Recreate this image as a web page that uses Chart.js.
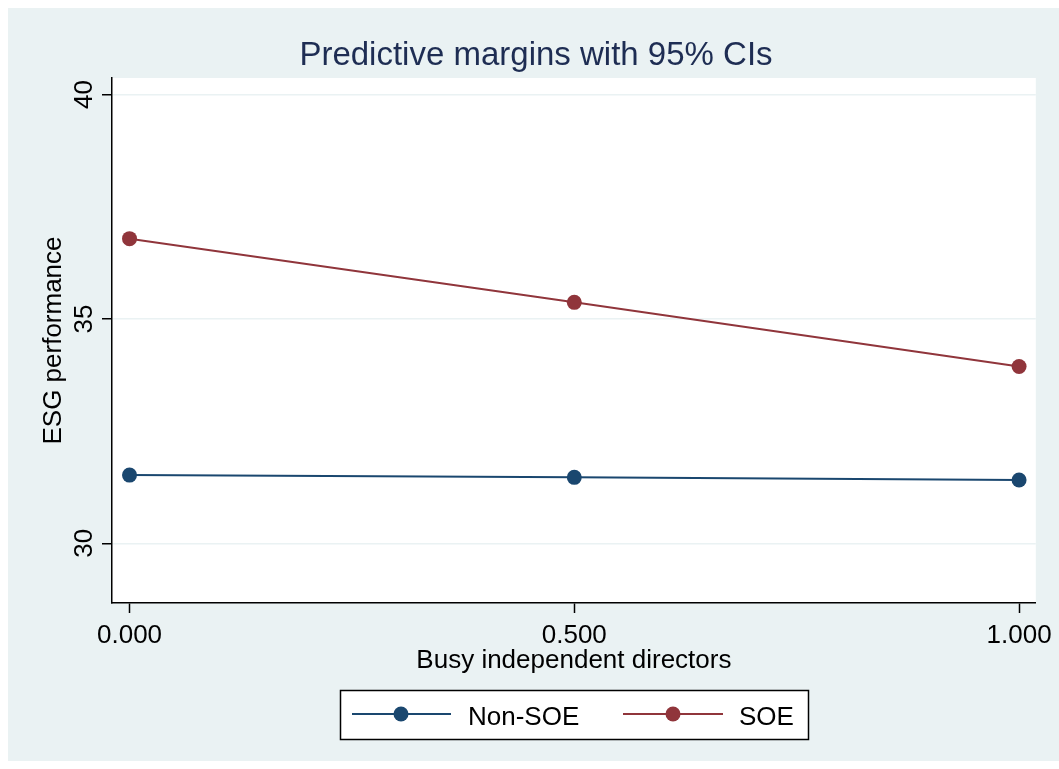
<!DOCTYPE html>
<html lang="en">
<head>
    <meta charset="UTF-8">
    <title>Predictive margins with 95% CIs</title>
    <style>
        * { margin: 0; padding: 0; box-sizing: border-box; }
        body { background: #fff; width: 1059px; height: 769px; overflow: hidden; }
        canvas { display: block; }
    </style>
</head>
<body>
    <canvas id="chart" width="1059" height="769"></canvas>

    <script src="https://cdn.jsdelivr.net/npm/chart.js@4.4.0/dist/chart.umd.min.js"></script>
    <script>
        // Data
        const chartTitle = 'Predictive margins with 95% CIs';
        const xTitle = 'Busy independent directors';
        const yTitle = 'ESG performance';
        const xValues = [0, 0.5, 1];
        const nonSoeValues = [31.52, 31.47, 31.41];
        const soeValues = [36.79, 35.37, 33.94];
        const seriesNames = ['Non-SOE', 'SOE'];
        const seriesColors = ['#1a476f', '#90353b'];
        const xTicks = [0, 0.5, 1];
        const yTicks = [30, 35, 40];

        const FONT = '"Liberation Sans", Arial, sans-serif';
        const BG = '#eaf2f3';

        const toPoints = vals => vals.map((v, i) => ({ x: xValues[i], y: v }));

        // Panel background, title, rotated y labels and the boxed legend
        const stataLook = {
            id: 'stataLook',
            beforeDraw(chart) {
                const { ctx, chartArea: a } = chart;
                ctx.save();
                ctx.fillStyle = BG;
                ctx.fillRect(8, 8, chart.width - 8, chart.height - 16);
                ctx.fillStyle = '#fff';
                ctx.fillRect(a.left, a.top, a.right - a.left, a.bottom - a.top);
                ctx.restore();
            },
            afterDraw(chart) {
                const { ctx } = chart;
                const yScale = chart.scales.y;
                ctx.save();

                // title
                ctx.fillStyle = '#1e2d53';
                ctx.font = '33px ' + FONT;
                ctx.textAlign = 'center';
                ctx.textBaseline = 'alphabetic';
                ctx.fillText(chartTitle, 536, 65);

                // y tick labels, rotated like Stata
                ctx.fillStyle = '#000';
                ctx.font = '26px ' + FONT;
                yTicks.forEach(t => {
                    const py = yScale.getPixelForValue(t);
                    ctx.save();
                    ctx.translate(92, py);
                    ctx.rotate(-Math.PI / 2);
                    ctx.fillText(String(t), 0, 0);
                    ctx.restore();
                });

                // legend
                const lx = 340, ly = 690, lw = 468, lh = 49;
                ctx.fillStyle = '#fff';
                ctx.fillRect(lx, ly, lw, lh);
                ctx.strokeStyle = '#000';
                ctx.lineWidth = 1.5;
                ctx.strokeRect(lx + 0.5, ly + 0.5, lw, lh);

                const items = [
                    { x0: 352, x1: 451, mx: 401, tx: 468 },
                    { x0: 623, x1: 723, mx: 673, tx: 739 }
                ];
                const my = 714;
                items.forEach((it, i) => {
                    ctx.strokeStyle = seriesColors[i];
                    ctx.lineWidth = 2;
                    ctx.beginPath();
                    ctx.moveTo(it.x0, my);
                    ctx.lineTo(it.x1, my);
                    ctx.stroke();
                    ctx.fillStyle = seriesColors[i];
                    ctx.beginPath();
                    ctx.arc(it.mx, my, 7.5, 0, Math.PI * 2);
                    ctx.fill();
                    ctx.fillStyle = '#000';
                    ctx.textAlign = 'left';
                    ctx.fillText(seriesNames[i], it.tx, 725);
                });
                ctx.restore();
            }
        };

        new Chart(document.getElementById('chart'), {
            type: 'line',
            data: {
                datasets: [
                    {
                        label: seriesNames[0],
                        data: toPoints(nonSoeValues),
                        borderColor: seriesColors[0],
                        backgroundColor: seriesColors[0],
                        borderWidth: 2,
                        pointRadius: 7.5,
                        pointBorderWidth: 0,
                        pointHoverRadius: 7.5,
                        fill: false,
                        tension: 0
                    },
                    {
                        label: seriesNames[1],
                        data: toPoints(soeValues),
                        borderColor: seriesColors[1],
                        backgroundColor: seriesColors[1],
                        borderWidth: 2,
                        pointRadius: 7.5,
                        pointBorderWidth: 0,
                        pointHoverRadius: 7.5,
                        fill: false,
                        tension: 0
                    }
                ]
            },
            options: {
                responsive: false,
                animation: false,
                events: [],
                layout: { padding: { top: 78, left: 8, right: 22, bottom: 89 } },
                plugins: {
                    legend: { display: false },
                    title: { display: false },
                    tooltip: { enabled: false }
                },
                scales: {
                    x: {
                        type: 'linear',
                        min: -0.0197,
                        max: 1.0188,
                        afterBuildTicks: s => { s.ticks = xTicks.map(v => ({ value: v })); },
                        afterFit: s => { s.height = 77; },
                        border: { color: '#000', width: 1.5 },
                        grid: {
                            drawOnChartArea: false,
                            drawTicks: true,
                            tickLength: 10,
                            tickColor: '#000',
                            tickWidth: 1.5
                        },
                        ticks: {
                            color: '#000',
                            font: { family: FONT, size: 26 },
                            padding: 7,
                            maxRotation: 0,
                            callback: v => Number(v).toFixed(3)
                        },
                        title: {
                            display: true,
                            text: xTitle,
                            color: '#000',
                            font: { family: FONT, size: 26 },
                            padding: { top: 0, bottom: 4 }
                        }
                    },
                    y: {
                        type: 'linear',
                        min: 28.67,
                        max: 40.37,
                        afterBuildTicks: s => { s.ticks = yTicks.map(v => ({ value: v })); },
                        afterFit: s => { s.width = 104; },
                        border: { color: '#000', width: 1.5 },
                        grid: {
                            color: BG,
                            lineWidth: 1.5,
                            drawTicks: true,
                            tickLength: 10,
                            tickColor: '#000',
                            tickWidth: 1.5
                        },
                        ticks: { display: false },
                        title: {
                            display: true,
                            text: yTitle,
                            color: '#000',
                            font: { family: FONT, size: 26 },
                            padding: { top: 30, bottom: 0 }
                        }
                    }
                }
            },
            plugins: [stataLook]
        });
    </script>
</body>
</html>
